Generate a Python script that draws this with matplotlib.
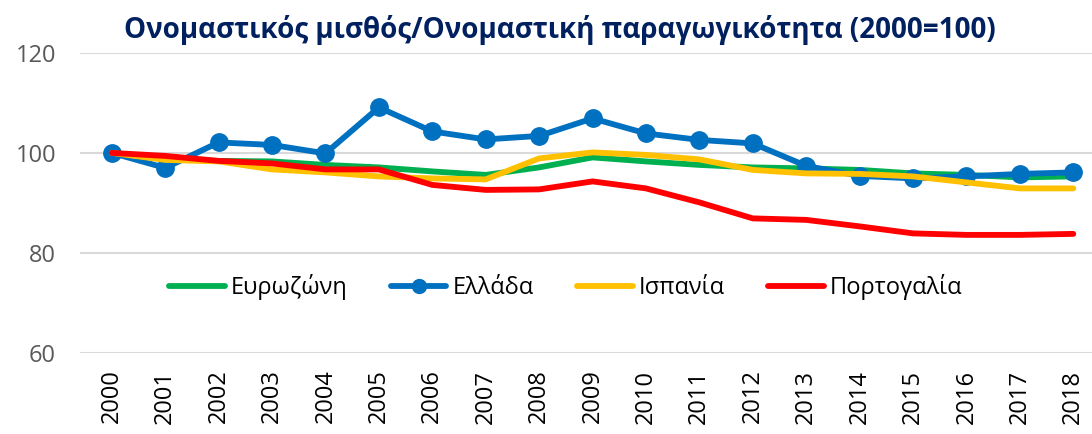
import numpy as np
import matplotlib.pyplot as plt

years = [str(y) for y in range(2000, 2019)]

eurozone = [100, 98.8, 98.4, 98.3, 97.6, 97.1, 96.3, 95.6, 97.1, 99.1,
            98.3, 97.6, 97.1, 96.9, 96.6, 95.9, 95.6, 95.1, 95.3]
greece = [100, 97.0, 102.1, 101.6, 99.9, 109.1, 104.3, 102.7, 103.4, 106.9,
          103.9, 102.6, 101.9, 97.4, 95.4, 94.9, 95.3, 95.8, 96.1]
spain = [100, 98.6, 98.3, 96.7, 96.1, 95.3, 94.9, 94.7, 98.9, 100.1,
         99.6, 98.7, 96.6, 95.9, 95.8, 95.3, 94.1, 92.9, 92.9]
portugal = [100, 99.4, 98.4, 97.9, 96.7, 96.7, 93.6, 92.6, 92.7, 94.3,
            92.9, 90.1, 86.9, 86.6, 85.3, 83.9, 83.6, 83.6, 83.8]

yticks = [60, 80, 100, 120]

plt.rcParams['font.family'] = ['Open Sans', 'DejaVu Sans']

fig = plt.figure(figsize=(10.92, 4.34), dpi=100)
ax = fig.add_axes([0.073, 0.187, 0.927, 0.691])

x = np.arange(len(years))
lw = 4.2
ax.plot(x, eurozone, color="#00B050", lw=lw, label="Ευρωζώνη", zorder=3,
        solid_capstyle="round")
ax.plot(x, greece, color="#0070C0", lw=lw, marker="o", ms=12.5,
        label="Ελλάδα", zorder=4, solid_capstyle="round")
ax.plot(x, spain, color="#FFC000", lw=lw, label="Ισπανία", zorder=5,
        solid_capstyle="round")
ax.plot(x, portugal, color="#FF0000", lw=lw, label="Πορτογαλία", zorder=6,
        solid_capstyle="round")

ax.set_ylim(60, 120)
ax.set_yticks(yticks)
ax.set_xlim(-0.6, 18.35)
ax.set_xticks(x)
ax.set_xticklabels(years, rotation=90, fontsize=17, color="#000000")
ax.tick_params(axis="y", labelsize=17, labelcolor="#595959", length=0, pad=17)
ax.tick_params(axis="x", length=0, pad=12)

ax.grid(axis="y", color="#D9D9D9", lw=1.5)
ax.set_axisbelow(True)
for s in ax.spines.values():
    s.set_visible(False)

ax.legend(loc="center", bbox_to_anchor=(0.48, 0.22), ncol=4, frameon=False,
          fontsize=17, handlelength=2.35, handletextpad=0.25, columnspacing=1.85,
          markerscale=0.8)

fig.text(0.513, 0.931, "Ονομαστικός μισθός/Ονομαστική παραγωγικότητα (2000=100)",
         ha="center", va="center", fontsize=20, fontweight="bold",
         color="#002060")

fig.savefig("out.png", dpi=100)
